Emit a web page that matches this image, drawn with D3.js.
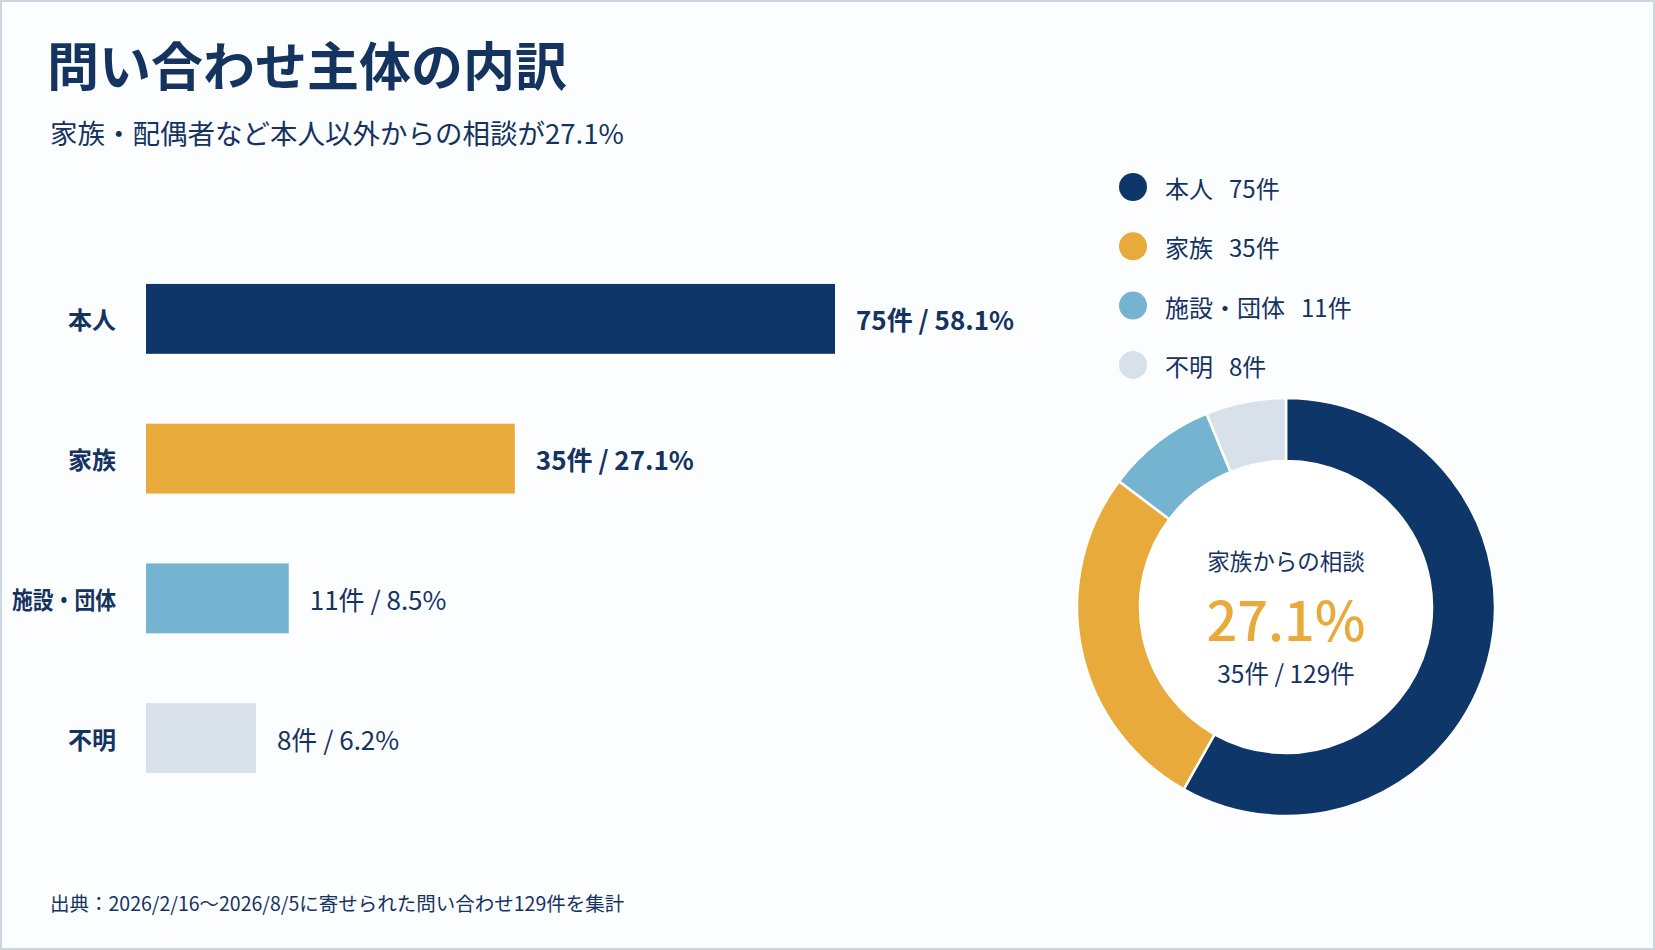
<!DOCTYPE html>
<html lang="ja">
<head>
<meta charset="utf-8">
<script src="https://cdn.jsdelivr.net/npm/d3@7"></script>
<style>
  html, body { margin: 0; padding: 0; background: #fcfdfe; }
  svg { display: block; font-family: "Noto Sans CJK JP", "Noto Sans", sans-serif; }
</style>
</head>
<body>
<div id="chart"></div>
<script>
// data
const categories = ['本人', '家族', '施設・団体', '不明']
const counts = [75, 35, 11, 8]
const shares = [58.1, 27.1, 8.5, 6.2]
const colors = ['#0e3668', '#e8aa3a', '#74b4d0', '#d8e0ea']
const total = 129

const width = 1655
const height = 950
const ink = '#15335f'

const svg = d3.select('#chart')
  .append('svg')
  .attr('width', width)
  .attr('height', height)

// page background + thin frame
svg.append('rect')
  .attr('x', 1).attr('y', 1)
  .attr('width', width - 2).attr('height', height - 2)
  .attr('fill', '#fcfdfe')
  .attr('stroke', '#cdd6e0')
  .attr('stroke-width', 2)

// heading
svg.append('text')
  .text('問い合わせ主体の内訳')
  .attr('x', 47)
  .attr('y', 63)
  .attr('dominant-baseline', 'central')
  .attr('fill', ink)
  .style('font-size', '52px')
  .style('font-weight', 700)

svg.append('text')
  .text('家族・配偶者など本人以外からの相談が27.1%')
  .attr('x', 50)
  .attr('y', 132)
  .attr('dominant-baseline', 'central')
  .attr('fill', ink)
  .style('font-size', '27.5px')

// bar chart
const barLeft = 146

const scaleY = d3.scaleBand()
  .domain(categories)
  .range([249, 808])
  .paddingInner(0.5)
  .paddingOuter(0.25)

// the reference bars are not strictly proportional; a soft power scale fits them
const scaleX = d3.scalePow()
  .exponent(0.82)
  .domain([0, 75])
  .range([0, 689])

const rows = categories.map((c, i) => ({ cat: c, count: counts[i], share: shares[i], color: colors[i], i }))

const bars = svg.append('g')

bars.selectAll('rect')
  .data(rows)
  .enter()
  .append('rect')
  .attr('x', barLeft)
  .attr('y', d => scaleY(d.cat))
  .attr('width', d => scaleX(d.count))
  .attr('height', scaleY.bandwidth())
  .attr('fill', d => d.color)

// category labels
bars.selectAll('.cat')
  .data(rows)
  .enter()
  .append('text')
  .attr('class', 'cat')
  .text(d => d.cat)
  .attr('x', 116)
  .attr('y', d => scaleY(d.cat) + scaleY.bandwidth() / 2)
  .attr('text-anchor', 'end')
  .attr('dominant-baseline', 'central')
  .attr('fill', ink)
  .style('font-size', '24px')
  .style('font-weight', 700)
  .each(function () {
    const len = this.getComputedTextLength()
    if (len > 104) d3.select(this).attr('textLength', 104).attr('lengthAdjust', 'spacingAndGlyphs')
  })

// value labels
bars.selectAll('.val')
  .data(rows)
  .enter()
  .append('text')
  .attr('class', 'val')
  .text(d => `${d.count}件 / ${d.share}%`)
  .attr('x', d => barLeft + scaleX(d.count) + 21)
  .attr('y', d => scaleY(d.cat) + scaleY.bandwidth() / 2)
  .attr('dominant-baseline', 'central')
  .attr('fill', ink)
  .style('font-size', '26px')
  .style('font-weight', d => d.i < 2 ? 700 : 400)

// legend
const legend = svg.append('g')
  .selectAll('g')
  .data(rows)
  .enter()
  .append('g')
  .attr('transform', d => `translate(1133, ${187 + d.i * 59.3})`)

legend.append('circle')
  .attr('r', 14)
  .attr('fill', d => d.color)

const lt = legend.append('text')
  .attr('x', 32)
  .attr('dominant-baseline', 'central')
  .attr('fill', ink)
  .style('font-size', '24px')

lt.append('tspan').text(d => d.cat)
lt.append('tspan').attr('dx', 16).text(d => `${d.count}件`)

// donut
const cx = 1286
const cy = 607
const pie = d3.pie().sort(null).value(d => d.count)
const arc = d3.arc().innerRadius(146).outerRadius(209)

const donut = svg.append('g')
  .attr('transform', `translate(${cx}, ${cy})`)

donut.selectAll('path')
  .data(pie(rows))
  .enter()
  .append('path')
  .attr('d', arc)
  .attr('fill', d => d.data.color)
  .attr('stroke', '#ffffff')
  .attr('stroke-width', 2.5)

donut.append('circle')
  .attr('r', 144)
  .attr('fill', '#ffffff')

donut.append('text')
  .text('家族からの相談')
  .attr('y', -47)
  .attr('text-anchor', 'middle')
  .attr('dominant-baseline', 'central')
  .attr('fill', ink)
  .style('font-size', '22.5px')

donut.append('text')
  .text(`${shares[1]}%`)
  .attr('y', 10)
  .attr('text-anchor', 'middle')
  .attr('dominant-baseline', 'central')
  .attr('fill', colors[1])
  .style('font-size', '54px')
  .style('font-weight', 500)

donut.append('text')
  .text(`${counts[1]}件 / ${total}件`)
  .attr('y', 65)
  .attr('text-anchor', 'middle')
  .attr('dominant-baseline', 'central')
  .attr('fill', ink)
  .style('font-size', '24.5px')

// source note
svg.append('text')
  .text('出典：2026/2/16〜2026/8/5に寄せられた問い合わせ129件を集計')
  .attr('x', 50)
  .attr('y', 902)
  .attr('dominant-baseline', 'central')
  .attr('fill', ink)
  .style('font-size', '19.5px')
</script>
</body>
</html>
